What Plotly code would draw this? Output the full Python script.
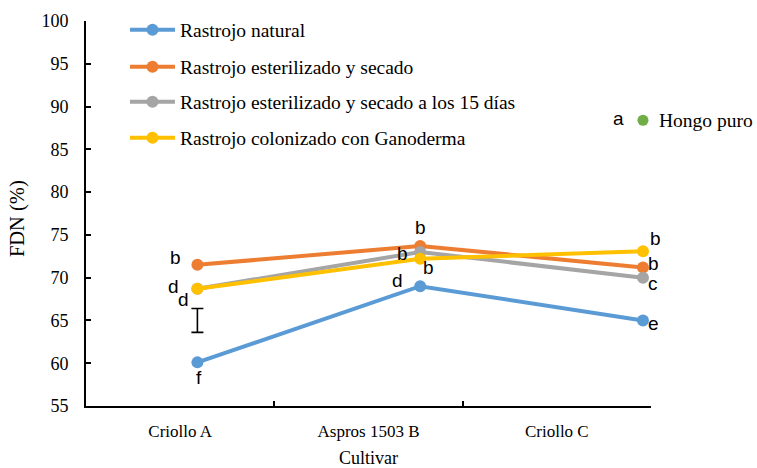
import plotly.graph_objects as go

# Cultivars and FDN (%) per stubble treatment
cultivars = ["Criollo A", "Aspros 1503 B", "Criollo C"]
series_names = [
    "Rastrojo natural",
    "Rastrojo esterilizado y secado",
    "Rastrojo esterilizado y secado a los 15 días",
    "Rastrojo colonizado con Ganoderma",
]
natural = [60.1, 69.0, 65.0]
esterilizado = [71.5, 73.7, 71.2]
esterilizado_15 = [68.7, 73.0, 70.0]
colonizado = [68.7, 72.2, 73.1]

# Mean separation letters
letters_natural = ["f", "d", "e"]
letters_esterilizado = ["b", "b", "b"]
letters_esterilizado_15 = ["d", "b", "c"]
letters_colonizado = ["d", "b", "b"]

# Pure fungus reference value
hongo_label = "Hongo puro"
hongo_value = [88.4]
hongo_letter = "a"
hongo_cultivar = ["Criollo C"]

# Least significant difference bar
lsd_center = [65.0]
lsd_half = [1.4]

colors = ["#5B9BD5", "#ED7D31", "#A5A5A5", "#FFC000"]
values = [natural, esterilizado, esterilizado_15, colonizado]
letters = [letters_natural, letters_esterilizado, letters_esterilizado_15, letters_colonizado]

# label offsets in pixels (dx, dy) for each series/cultivar
label_offsets = [
    [(2, -15), (-23, 6), (11, -3)],
    [(-22, 7), (0, 19), (11, 4)],
    [(-24, 2), (-18, -1), (10, -6)],
    [(-14, -11), (8, -9), (13, 13)],
]

serif = "Liberation Serif"
sans = "Liberation Sans"

fig = go.Figure()

# invisible anchors so the boundary-tick axis and the label axis get drawn
fig.add_trace(go.Scatter(x=[1.5], y=[55], mode="markers", marker=dict(opacity=0),
                         xaxis="x", yaxis="y", showlegend=False, hoverinfo="skip"))
fig.add_trace(go.Scatter(x=[1.5], y=[55], mode="markers", marker=dict(opacity=0),
                         xaxis="x2", yaxis="y", showlegend=False, hoverinfo="skip"))

legend_rows = [0.9766, 0.8805, 0.7896, 0.6961]
legend_ids = ["legend", "legend2", "legend3", "legend4"]

for name, vals, col, lid in zip(series_names, values, colors, legend_ids):
    fig.add_trace(go.Scatter(
        x=cultivars, y=vals, name=name, mode="lines+markers",
        line=dict(color=col, width=4),
        marker=dict(color=col, size=12),
        xaxis="x3", yaxis="y", legend=lid,
    ))

fig.add_trace(go.Scatter(
    x=[cultivars[0]], y=lsd_center, mode="markers",
    marker=dict(size=1, color="rgba(0,0,0,0)"),
    error_y=dict(type="data", array=lsd_half, color="black", thickness=1.6, width=6),
    xaxis="x3", yaxis="y", showlegend=False, hoverinfo="skip",
))

fig.add_trace(go.Scatter(
    x=hongo_cultivar, y=hongo_value, mode="markers",
    marker=dict(color="#70AD47", size=11),
    xaxis="x3", yaxis="y", showlegend=False,
))

annotations = []
for vals, lets, offs in zip(values, letters, label_offsets):
    for c, v, t, (dx, dy) in zip(cultivars, vals, lets, offs):
        annotations.append(dict(
            x=c, y=v, xref="x3", yref="y", text=t, showarrow=False,
            xshift=dx, yshift=dy, font=dict(family=sans, size=19, color="black"),
        ))

annotations.append(dict(
    x=hongo_cultivar[0], y=hongo_value[0], xref="x3", yref="y", text=hongo_letter,
    showarrow=False, xshift=-24, yshift=2, font=dict(family=sans, size=19, color="black"),
))
annotations.append(dict(
    x=hongo_cultivar[0], y=hongo_value[0], xref="x3", yref="y", text=hongo_label,
    showarrow=False, xshift=14, xanchor="left", font=dict(family=serif, size=19.5, color="black"),
))
annotations.append(dict(
    x=0.5, y=-0.135, xref="paper", yref="paper", text="Cultivar", showarrow=False,
    xanchor="center", yanchor="middle",
    font=dict(family=serif, size=18, color="black"),
))
annotations.append(dict(
    x=-0.12, y=0.486, xref="paper", yref="paper", text="FDN (%)", showarrow=False,
    xanchor="center", yanchor="middle",
    textangle=-90, font=dict(family=serif, size=20.5, color="black"),
))

layout_legends = {}
for lid, yrow in zip(legend_ids, legend_rows):
    layout_legends[lid] = dict(
        x=0.069, y=yrow, xanchor="left", yanchor="middle",
        bgcolor="rgba(0,0,0,0)", borderwidth=0,
        font=dict(family=serif, size=19.5, color="black"),
        itemwidth=45,
    )

fig.update_layout(
    width=757, height=468,
    margin=dict(l=86, r=106, t=21, b=62, autoexpand=False),
    plot_bgcolor="white", paper_bgcolor="white",
    showlegend=True,
    annotations=annotations,
    xaxis=dict(
        range=[0, 3], tickvals=[1, 2, 3], ticktext=["", "", ""],
        ticks="inside", ticklen=5, tickwidth=1.5, tickcolor="black",
        showline=True, linecolor="black", linewidth=1.6,
        showgrid=False, zeroline=False, fixedrange=True,
    ),
    xaxis2=dict(
        overlaying="x", range=[0, 3], tickvals=[0.5, 1.5, 2.5], ticktext=cultivars,
        ticks="outside", ticklen=10, tickcolor="rgba(0,0,0,0)",
        tickfont=dict(family=serif, size=17, color="black"),
        showline=False, showgrid=False, zeroline=False, side="bottom",
    ),
    xaxis3=dict(
        overlaying="x", type="category", categoryorder="array", categoryarray=cultivars,
        range=[-0.5, 2.036], visible=False,
    ),
    yaxis=dict(
        range=[55, 100], dtick=5, ticks="inside", ticklen=5, tickwidth=1.5, tickcolor="black",
        showline=True, linecolor="black", linewidth=1.6,
        tickfont=dict(family=serif, size=18, color="black"),
        ticklabelstandoff=12,
        showgrid=False, zeroline=False,
    ),
    **layout_legends,
)

fig.write_html("out.html")
